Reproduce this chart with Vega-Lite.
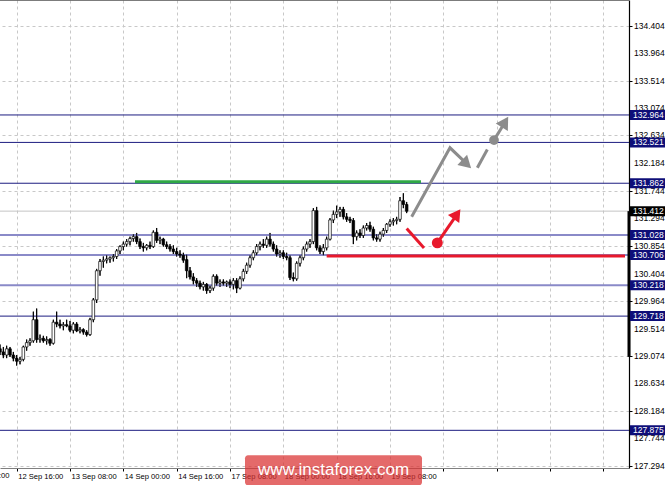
{
"$schema": "https://vega.github.io/schema/vega-lite/v6.json",
"width": 629, "height": 468,
"autosize": {"type": "none"},
"padding": {"left": 0, "top": 0, "right": 36, "bottom": 17},
"background": "white",
"config": {"view": {"stroke": null}, "font": "Liberation Sans",
 "axis": {"labelOverlap": false, "labelBound": false, "labelFlush": false, "labelColor": "#000000", "labelFont": "Liberation Sans", "gridColor": "#c8c8c8", "gridDash": [3, 3], "gridWidth": 1, "tickColor": "#000000", "tickSize": 3}},
"datasets": {
"candles": [
{"i":-5,"o":129.19,"h":129.26,"l":129.09,"c":129.14},
{"i":-4,"o":129.14,"h":129.22,"l":129.04,"c":129.09},
{"i":-3,"o":129.09,"h":129.24,"l":129.04,"c":129.19},
{"i":-2,"o":129.19,"h":129.22,"l":129.06,"c":129.09},
{"i":-1,"o":129.09,"h":129.14,"l":128.99,"c":129.04},
{"i":0,"o":129.04,"h":129.09,"l":128.92,"c":128.99},
{"i":1,"o":128.99,"h":129.06,"l":128.94,"c":129.02},
{"i":2,"o":129.02,"h":129.24,"l":128.99,"c":129.22},
{"i":3,"o":129.22,"h":129.34,"l":129.16,"c":129.29},
{"i":4,"o":129.29,"h":129.36,"l":129.24,"c":129.32},
{"i":5,"o":129.32,"h":129.79,"l":129.29,"c":129.66},
{"i":6,"o":129.66,"h":129.84,"l":129.29,"c":129.34},
{"i":7,"o":129.34,"h":129.42,"l":129.29,"c":129.36},
{"i":8,"o":129.36,"h":129.40,"l":129.29,"c":129.32},
{"i":9,"o":129.32,"h":129.39,"l":129.26,"c":129.34},
{"i":10,"o":129.34,"h":129.36,"l":129.24,"c":129.28},
{"i":11,"o":129.28,"h":129.66,"l":129.26,"c":129.62},
{"i":12,"o":129.62,"h":129.79,"l":129.54,"c":129.59},
{"i":13,"o":129.59,"h":129.66,"l":129.52,"c":129.56},
{"i":14,"o":129.56,"h":129.62,"l":129.49,"c":129.58},
{"i":15,"o":129.58,"h":129.66,"l":129.54,"c":129.56},
{"i":16,"o":129.56,"h":129.64,"l":129.46,"c":129.49},
{"i":17,"o":129.49,"h":129.62,"l":129.44,"c":129.59},
{"i":18,"o":129.59,"h":129.62,"l":129.46,"c":129.48},
{"i":19,"o":129.48,"h":129.54,"l":129.44,"c":129.50},
{"i":20,"o":129.50,"h":129.52,"l":129.42,"c":129.46},
{"i":21,"o":129.46,"h":129.49,"l":129.39,"c":129.42},
{"i":22,"o":129.42,"h":129.69,"l":129.40,"c":129.66},
{"i":23,"o":129.66,"h":130.01,"l":129.62,"c":129.98},
{"i":24,"o":129.98,"h":130.48,"l":129.93,"c":130.45},
{"i":25,"o":130.45,"h":130.64,"l":130.37,"c":130.60},
{"i":26,"o":130.60,"h":130.68,"l":130.50,"c":130.62},
{"i":27,"o":130.62,"h":130.70,"l":130.57,"c":130.64},
{"i":28,"o":130.64,"h":130.68,"l":130.58,"c":130.66},
{"i":29,"o":130.66,"h":130.72,"l":130.60,"c":130.68},
{"i":30,"o":130.68,"h":130.80,"l":130.64,"c":130.77},
{"i":31,"o":130.77,"h":130.86,"l":130.72,"c":130.84},
{"i":32,"o":130.84,"h":130.92,"l":130.78,"c":130.88},
{"i":33,"o":130.88,"h":130.96,"l":130.84,"c":130.92},
{"i":34,"o":130.92,"h":131.00,"l":130.86,"c":130.97},
{"i":35,"o":130.97,"h":131.04,"l":130.92,"c":131.00},
{"i":36,"o":131.00,"h":131.06,"l":130.88,"c":130.92},
{"i":37,"o":130.92,"h":130.97,"l":130.80,"c":130.84},
{"i":38,"o":130.84,"h":130.90,"l":130.76,"c":130.82},
{"i":39,"o":130.82,"h":130.88,"l":130.78,"c":130.86},
{"i":40,"o":130.86,"h":130.92,"l":130.80,"c":130.84},
{"i":41,"o":130.84,"h":131.10,"l":130.82,"c":131.07},
{"i":42,"o":131.07,"h":131.14,"l":130.90,"c":130.94},
{"i":43,"o":130.94,"h":131.00,"l":130.88,"c":130.96},
{"i":44,"o":130.96,"h":130.98,"l":130.84,"c":130.87},
{"i":45,"o":130.87,"h":130.92,"l":130.80,"c":130.84},
{"i":46,"o":130.84,"h":130.88,"l":130.76,"c":130.80},
{"i":47,"o":130.80,"h":130.86,"l":130.72,"c":130.76},
{"i":48,"o":130.76,"h":130.82,"l":130.68,"c":130.72},
{"i":49,"o":130.72,"h":130.78,"l":130.66,"c":130.70},
{"i":50,"o":130.70,"h":130.74,"l":130.58,"c":130.62},
{"i":51,"o":130.63,"h":130.71,"l":130.33,"c":130.45},
{"i":52,"o":130.45,"h":130.51,"l":130.31,"c":130.35},
{"i":53,"o":130.35,"h":130.41,"l":130.23,"c":130.29},
{"i":54,"o":130.29,"h":130.33,"l":130.19,"c":130.25},
{"i":55,"o":130.25,"h":130.29,"l":130.15,"c":130.19},
{"i":56,"o":130.19,"h":130.27,"l":130.13,"c":130.23},
{"i":57,"o":130.23,"h":130.25,"l":130.08,"c":130.13},
{"i":58,"o":130.13,"h":130.21,"l":130.09,"c":130.17},
{"i":59,"o":130.17,"h":130.39,"l":130.13,"c":130.36},
{"i":60,"o":130.36,"h":130.39,"l":130.21,"c":130.25},
{"i":61,"o":130.25,"h":130.31,"l":130.19,"c":130.27},
{"i":62,"o":130.27,"h":130.31,"l":130.21,"c":130.25},
{"i":63,"o":130.25,"h":130.29,"l":130.19,"c":130.27},
{"i":64,"o":130.27,"h":130.31,"l":130.17,"c":130.23},
{"i":65,"o":130.23,"h":130.33,"l":130.15,"c":130.29},
{"i":66,"o":130.29,"h":130.33,"l":130.09,"c":130.17},
{"i":67,"o":130.17,"h":130.36,"l":130.15,"c":130.32},
{"i":68,"o":130.32,"h":130.48,"l":130.28,"c":130.44},
{"i":69,"o":130.44,"h":130.58,"l":130.40,"c":130.54},
{"i":70,"o":130.54,"h":130.70,"l":130.50,"c":130.66},
{"i":71,"o":130.66,"h":130.78,"l":130.62,"c":130.74},
{"i":72,"o":130.74,"h":130.88,"l":130.70,"c":130.84},
{"i":73,"o":130.84,"h":130.92,"l":130.78,"c":130.88},
{"i":74,"o":130.88,"h":130.96,"l":130.82,"c":130.86},
{"i":75,"o":130.86,"h":131.00,"l":130.82,"c":130.96},
{"i":76,"o":130.96,"h":131.06,"l":130.84,"c":130.88},
{"i":77,"o":130.88,"h":130.92,"l":130.76,"c":130.80},
{"i":78,"o":130.80,"h":130.86,"l":130.68,"c":130.72},
{"i":79,"o":130.72,"h":130.78,"l":130.66,"c":130.74},
{"i":80,"o":130.74,"h":130.78,"l":130.64,"c":130.68},
{"i":81,"o":130.68,"h":130.74,"l":130.62,"c":130.66},
{"i":82,"o":130.66,"h":130.70,"l":130.30,"c":130.34},
{"i":83,"o":130.34,"h":130.42,"l":130.28,"c":130.32},
{"i":84,"o":130.32,"h":130.60,"l":130.29,"c":130.57},
{"i":85,"o":130.57,"h":130.70,"l":130.52,"c":130.66},
{"i":86,"o":130.66,"h":130.84,"l":130.62,"c":130.80},
{"i":87,"o":130.80,"h":130.92,"l":130.76,"c":130.88},
{"i":88,"o":130.88,"h":130.96,"l":130.82,"c":130.92},
{"i":89,"o":130.92,"h":131.46,"l":130.88,"c":131.42},
{"i":90,"o":131.42,"h":131.48,"l":130.78,"c":130.82},
{"i":91,"o":130.82,"h":130.86,"l":130.72,"c":130.76},
{"i":92,"o":130.76,"h":130.88,"l":130.70,"c":130.82},
{"i":93,"o":130.82,"h":131.00,"l":130.78,"c":130.96},
{"i":94,"o":130.96,"h":131.30,"l":130.94,"c":131.27},
{"i":95,"o":131.27,"h":131.42,"l":131.22,"c":131.36},
{"i":96,"o":131.36,"h":131.50,"l":131.30,"c":131.40},
{"i":97,"o":131.40,"h":131.48,"l":131.32,"c":131.44},
{"i":98,"o":131.44,"h":131.48,"l":131.28,"c":131.32},
{"i":99,"o":131.32,"h":131.38,"l":131.24,"c":131.28},
{"i":100,"o":131.28,"h":131.32,"l":131.22,"c":131.26},
{"i":101,"o":131.26,"h":131.30,"l":130.88,"c":131.00},
{"i":102,"o":131.00,"h":131.10,"l":130.94,"c":131.06},
{"i":103,"o":131.06,"h":131.12,"l":130.98,"c":131.02},
{"i":104,"o":131.02,"h":131.18,"l":130.98,"c":131.14},
{"i":105,"o":131.14,"h":131.22,"l":131.10,"c":131.18},
{"i":106,"o":131.18,"h":131.24,"l":131.08,"c":131.12},
{"i":107,"o":131.12,"h":131.16,"l":130.94,"c":130.98},
{"i":108,"o":130.98,"h":131.04,"l":130.92,"c":130.96},
{"i":109,"o":130.96,"h":131.08,"l":130.92,"c":131.04},
{"i":110,"o":131.04,"h":131.14,"l":131.00,"c":131.10},
{"i":111,"o":131.10,"h":131.22,"l":131.06,"c":131.20},
{"i":112,"o":131.20,"h":131.28,"l":131.16,"c":131.24},
{"i":113,"o":131.24,"h":131.30,"l":131.18,"c":131.26},
{"i":114,"o":131.26,"h":131.32,"l":131.20,"c":131.28},
{"i":115,"o":131.28,"h":131.64,"l":131.24,"c":131.58},
{"i":116,"o":131.58,"h":131.70,"l":131.46,"c":131.52},
{"i":117,"o":131.52,"h":131.56,"l":131.38,"c":131.41}
],
"yticks": [{"p":134.404},{"p":133.964},{"p":133.514},{"p":133.074},{"p":132.634},{"p":132.184},{"p":131.744},{"p":131.294},{"p":130.854},{"p":130.404},{"p":129.964},{"p":129.514},{"p":129.074},{"p":128.634},{"p":128.184},{"p":127.744},{"p":127.294}],
"darkLevels": [{"p":132.964},{"p":132.521},{"p":131.862},{"p":129.718},{"p":127.875}],
"lightLevels": [{"p":131.028},{"p":130.706},{"p":130.218}],
"levelTags": [{"p":132.964},{"p":132.521},{"p":131.862},{"p":131.028},{"p":130.706},{"p":130.218},{"p":129.718},{"p":127.875}],
"bid": [{"p":131.412}],
"grayPath": [
{"s":"a","k":0,"i":118.5,"p":131.32},{"s":"a","k":1,"i":130.0,"p":132.434},{"s":"a","k":2,"i":134.9,"p":132.182},
{"s":"b","k":0,"i":138.2,"p":132.111},{"s":"b","k":1,"i":141.2,"p":132.408},
{"s":"c","k":0,"i":143.2,"p":132.558},{"s":"c","k":1,"i":146.4,"p":132.839}
],
"redPath": [
{"s":"a","k":0,"i":117.0,"p":131.133},{"s":"a","k":1,"i":122.2,"p":130.819},
{"s":"b","k":0,"i":126.2,"p":130.9},{"s":"b","k":1,"i":131.95,"p":131.346}
]
},
"layer": [
{
"data": {"name": "candles"},
"mark": {"type": "rule", "color": "#000000", "strokeWidth": 1},
"encoding": {
"x": {"field": "i", "type": "quantitative", "title": null,
 "scale": {"domain": [-5, 183.7], "nice": false, "zero": false, "padding": 0},
 "axis": {"values": [0,8,16,24,32,40,48,56,64,72,80,88,96,104,112,120,128,136,144,152,160,168,176],
  "labelExpr": "(datum.value % 16 === 0 && datum.value <= 112) ? ['12 Sep 16:00','13 Sep 08:00','14 Sep 00:00','14 Sep 16:00','17 Sep 08:00','18 Sep 00:00','18 Sep 16:00','19 Sep 08:00'][datum.value / 16] : ''",
  "grid": true, "domain": true, "domainColor": "#808080", "domainWidth": 1,
  "tickOpacity": {"condition": {"test": "datum.value % 16 === 0", "value": 1}, "value": 0},
  "labelAlign": "left", "labelBaseline": "top", "labelPadding": 1, "labelOffset": 1,
  "labelFontSize": 7.6, "labelOverlap": false}},
"y": {"field": "l", "type": "quantitative", "title": null,
 "scale": {"domain": [127.267, 134.819], "nice": false, "zero": false, "padding": 0},
 "axis": {"orient": "right",
  "values": [134.404,133.964,133.514,133.074,132.634,132.184,131.744,131.294,130.854,130.404,129.964,129.514,129.074,128.634,128.184,127.744,127.294],
  "grid": true, "labels": false,
  "domain": true, "domainColor": "#000000", "domainWidth": 1.2}},
"y2": {"field": "h"}
}
},
{
"data": {"values": [{"p": 134.819}]},
"mark": {"type": "rule", "color": "#505050", "strokeWidth": 1.5},
"encoding": {"y": {"field": "p", "type": "quantitative", "title": null}}
},
{
"data": {"name": "darkLevels"},
"mark": {"type": "rule", "color": "#1c1c80", "strokeWidth": 1},
"encoding": {"y": {"field": "p", "type": "quantitative", "title": null}}
},
{
"data": {"name": "lightLevels"},
"mark": {"type": "rule", "color": "#8a8ac8", "strokeWidth": 2},
"encoding": {"y": {"field": "p", "type": "quantitative", "title": null}}
},
{
"data": {"name": "bid"},
"mark": {"type": "rule", "color": "#c4c4c4", "strokeWidth": 1},
"encoding": {"y": {"field": "p", "type": "quantitative", "title": null}}
},
{
"data": {"name": "candles"},
"mark": {"type": "rule", "color": "#000000", "strokeWidth": 1},
"encoding": {
"x": {"field": "i", "type": "quantitative", "title": null},
"y": {"field": "l", "type": "quantitative", "title": null},
"y2": {"field": "h"}
}
},
{
"data": {"name": "candles"},
"mark": {"type": "bar", "size": 2.6, "stroke": "#000000", "strokeWidth": 0.7},
"encoding": {
"x": {"field": "i", "type": "quantitative", "title": null},
"y": {"field": "o", "type": "quantitative", "title": null},
"y2": {"field": "c"},
"fill": {"condition": {"test": "datum.c < datum.o", "value": "#000000"}, "value": "#ffffff"}
}
},
{
"data": {"values": [{"a": 35.5, "b": 121.3, "p": 131.885}]},
"mark": {"type": "rule", "color": "#2fa846", "strokeWidth": 3},
"encoding": {
"x": {"field": "a", "type": "quantitative", "title": null},
"x2": {"field": "b"},
"y": {"field": "p", "type": "quantitative", "title": null}
}
},
{
"data": {"values": [{"a": 93.0, "b": 182.5, "p": 130.686}]},
"mark": {"type": "rule", "color": "#e8192c", "strokeWidth": 3},
"encoding": {
"x": {"field": "a", "type": "quantitative", "title": null},
"x2": {"field": "b"},
"y": {"field": "p", "type": "quantitative", "title": null}
}
},
{
"data": {"name": "grayPath"},
"mark": {"type": "line", "color": "#8c8c8c", "strokeWidth": 3, "strokeCap": "butt"},
"encoding": {
"x": {"field": "i", "type": "quantitative", "title": null},
"y": {"field": "p", "type": "quantitative", "title": null},
"detail": {"field": "s"},
"order": {"field": "k"}
}
},
{
"data": {"name": "redPath"},
"mark": {"type": "line", "color": "#e8192c", "strokeWidth": 3, "strokeCap": "butt"},
"encoding": {
"x": {"field": "i", "type": "quantitative", "title": null},
"y": {"field": "p", "type": "quantitative", "title": null},
"detail": {"field": "s"},
"order": {"field": "k"}
}
},
{
"data": {"values": [{"i": 143.2, "p": 132.558}]},
"mark": {"type": "point", "shape": "circle", "filled": true, "color": "#8c8c8c", "size": 95, "opacity": 1},
"encoding": {
"x": {"field": "i", "type": "quantitative", "title": null},
"y": {"field": "p", "type": "quantitative", "title": null}
}
},
{
"data": {"values": [{"i": 126.2, "p": 130.9}]},
"mark": {"type": "point", "shape": "circle", "filled": true, "color": "#e8192c", "size": 120, "opacity": 1},
"encoding": {
"x": {"field": "i", "type": "quantitative", "title": null},
"y": {"field": "p", "type": "quantitative", "title": null}
}
},
{
"data": {"values": [{"i": 135.0, "p": 132.17}]},
"mark": {"type": "point", "shape": "triangle-up", "filled": true, "color": "#8c8c8c", "size": 200, "angle": 133.5, "opacity": 1},
"encoding": {
"x": {"field": "i", "type": "quantitative", "title": null},
"y": {"field": "p", "type": "quantitative", "title": null}
}
},
{
"data": {"values": [{"i": 146.5, "p": 132.85}]},
"mark": {"type": "point", "shape": "triangle-up", "filled": true, "color": "#8c8c8c", "size": 200, "angle": 31.5, "opacity": 1},
"encoding": {
"x": {"field": "i", "type": "quantitative", "title": null},
"y": {"field": "p", "type": "quantitative", "title": null}
}
},
{
"data": {"values": [{"i": 132.1, "p": 131.365}]},
"mark": {"type": "point", "shape": "triangle-up", "filled": true, "color": "#e8192c", "size": 190, "angle": 34.8, "opacity": 1},
"encoding": {
"x": {"field": "i", "type": "quantitative", "title": null},
"y": {"field": "p", "type": "quantitative", "title": null}
}
},
{
"data": {"values": [{"a": 131.412, "b": 129.06}]},
"mark": {"type": "rule", "color": "#000000", "strokeWidth": 3},
"encoding": {
"x": {"datum": 183.7, "type": "quantitative", "title": null},
"y": {"field": "a", "type": "quantitative", "title": null},
"y2": {"field": "b"}
}
},
{
"data": {"name": "yticks"},
"mark": {"type": "text", "color": "#000000", "fontSize": 8.5, "font": "Liberation Sans", "align": "left", "baseline": "middle"},
"encoding": {
"x": {"datum": 185.2, "type": "quantitative", "title": null},
"y": {"field": "p", "type": "quantitative", "title": null},
"text": {"field": "p", "type": "quantitative", "format": ".3f"}
}
},
{
"data": {"values": [{"label": "12 Sep 00:00"}]},
"mark": {"type": "text", "color": "#000000", "fontSize": 7.6, "font": "Liberation Sans", "align": "left", "baseline": "top"},
"encoding": {
"x": {"datum": -15.7, "type": "quantitative", "title": null},
"y": {"datum": 127.203, "type": "quantitative", "title": null},
"text": {"field": "label", "type": "nominal"}
}
},
{
"data": {"name": "levelTags"},
"mark": {"type": "rule", "color": "#0e0e78", "strokeWidth": 10, "strokeCap": "butt"},
"encoding": {
"x": {"datum": 184.0, "type": "quantitative", "title": null},
"x2": {"datum": 194.6},
"y": {"field": "p", "type": "quantitative", "title": null}
}
},
{
"data": {"name": "levelTags"},
"mark": {"type": "text", "color": "#ffffff", "fontSize": 8.5, "font": "Liberation Sans", "align": "left", "baseline": "middle"},
"encoding": {
"x": {"datum": 184.9, "type": "quantitative", "title": null},
"y": {"field": "p", "type": "quantitative", "title": null},
"text": {"field": "p", "type": "quantitative", "format": ".3f"}
}
},
{
"data": {"name": "bid"},
"mark": {"type": "rule", "color": "#000000", "strokeWidth": 10, "strokeCap": "butt"},
"encoding": {
"x": {"datum": 184.0, "type": "quantitative", "title": null},
"x2": {"datum": 194.6},
"y": {"field": "p", "type": "quantitative", "title": null}
}
},
{
"data": {"name": "bid"},
"mark": {"type": "text", "color": "#ffffff", "fontSize": 8.5, "font": "Liberation Sans", "align": "left", "baseline": "middle"},
"encoding": {
"x": {"datum": 184.9, "type": "quantitative", "title": null},
"y": {"field": "p", "type": "quantitative", "title": null},
"text": {"field": "p", "type": "quantitative", "format": ".3f"}
}
},
{
"data": {"values": [{"label": "www.instaforex.com"}]},
"mark": {"type": "rect", "color": "#d93030", "opacity": 0.72, "cornerRadius": 3},
"encoding": {
"x": {"datum": 68.5, "type": "quantitative", "title": null},
"x2": {"datum": 121.6},
"y": {"datum": 127.472, "type": "quantitative", "title": null},
"y2": {"datum": 126.987}
}
},
{
"data": {"values": [{"label": "www.instaforex.com"}]},
"mark": {"type": "text", "color": "#ffffff", "fontSize": 17, "font": "Liberation Sans", "align": "center", "baseline": "middle"},
"encoding": {
"x": {"datum": 95.05, "type": "quantitative", "title": null},
"y": {"datum": 127.23, "type": "quantitative", "title": null},
"text": {"field": "label", "type": "nominal"}
}
}
]
}
